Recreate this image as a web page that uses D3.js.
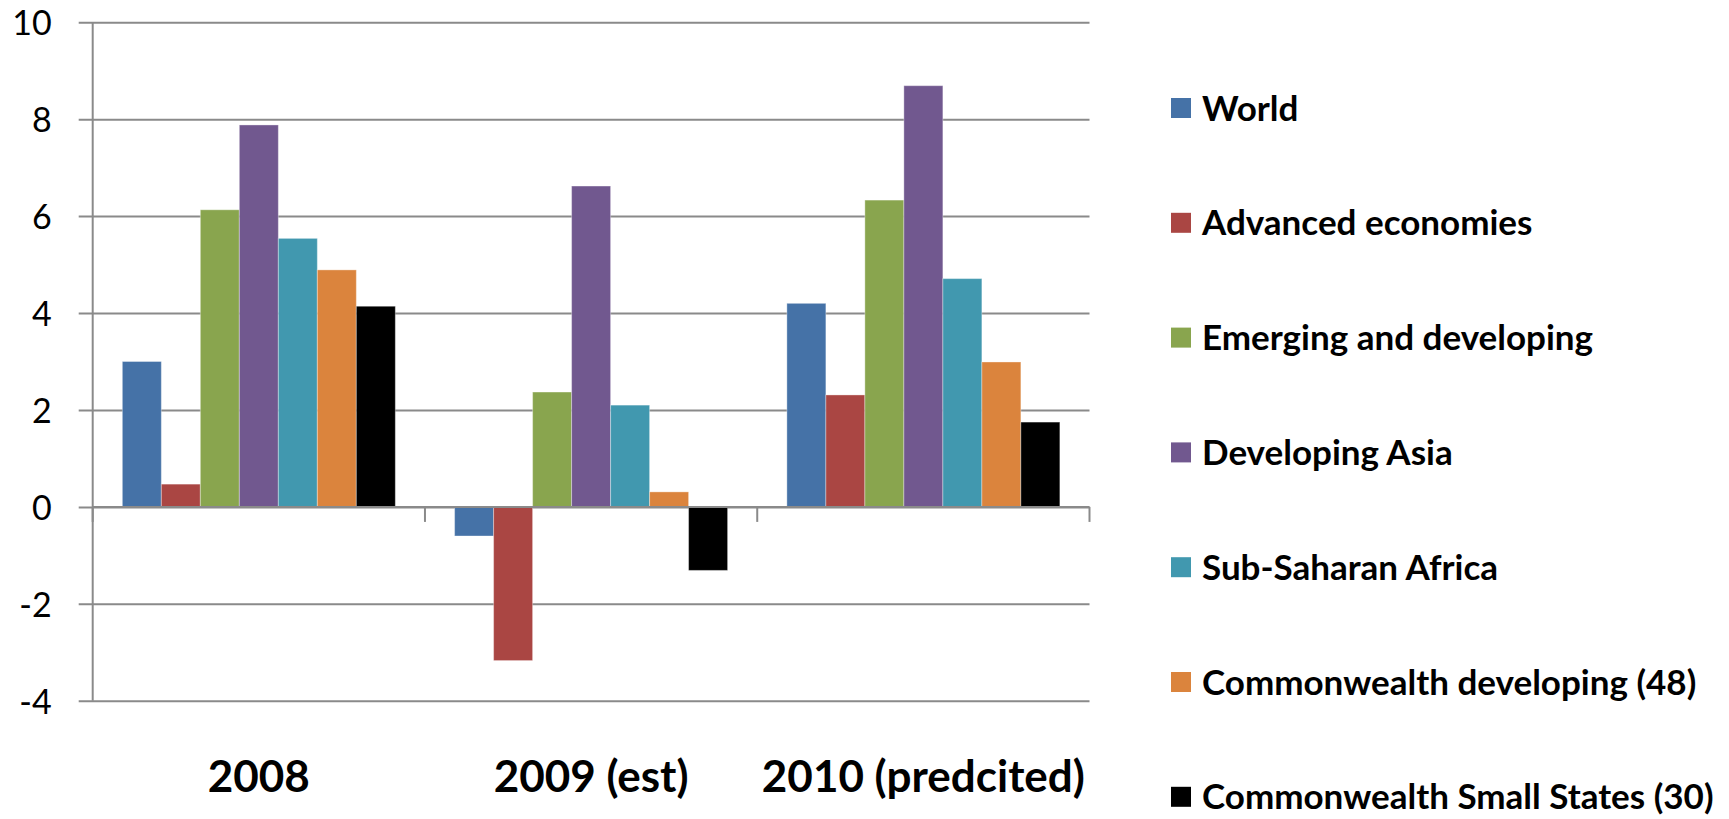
<!DOCTYPE html>
<html>
<head>
<meta charset="utf-8">
<script src="https://cdn.jsdelivr.net/npm/d3@7/dist/d3.min.js"></script>
<style>
  html, body { margin: 0; padding: 0; background: #ffffff; }
  svg { display: block; }
</style>
</head>
<body>
<script>
// ---- data ----
const categories = ["2008", "2009 (est)", "2010 (predcited)"];
const seriesNames = [
  "World",
  "Advanced economies",
  "Emerging and developing",
  "Developing Asia",
  "Sub-Saharan Africa",
  "Commonwealth developing (48)",
  "Commonwealth Small States (30)"
];
const world        = [3.0, -0.6, 4.2];
const advanced     = [0.47, -3.17, 2.31];
const emerging     = [6.13, 2.37, 6.33];
const devAsia      = [7.88, 6.62, 8.69];
const subSaharan   = [5.54, 2.10, 4.71];
const cwDeveloping = [4.89, 0.31, 2.99];
const cwSmall      = [4.14, -1.31, 1.75];
const seriesValues = [world, advanced, emerging, devAsia, subSaharan, cwDeveloping, cwSmall];
const seriesColors = ["#4572A7", "#AA4643", "#89A54E", "#71588F", "#4198AF", "#DB843D", "#000000"];
const yTicks = [-4, -2, 0, 2, 4, 6, 8, 10];

// ---- layout ----
const W = 1729, H = 819;
const plot = { left: 92.7, right: 1089.5, top: 22.2, bottom: 700.8 };

const svg = d3.select("body").append("svg").attr("width", W).attr("height", H);
svg.append("rect").attr("width", W).attr("height", H).attr("fill", "#ffffff");

const x0 = d3.scaleBand().domain(categories).range([plot.left, plot.right]).padding(0);
const x1 = d3.scaleBand().domain(d3.range(seriesNames.length))
  .range([0, x0.bandwidth()]).paddingInner(0).paddingOuter(0.76);
const y = d3.scaleLinear().domain([-4, 10]).range([plot.bottom, plot.top]);

const gridColor = "#8a8a8a";

// gridlines + y axis
const yAxis = d3.axisLeft(y).tickValues(yTicks).tickSize(-(plot.right - plot.left)).tickSizeOuter(0).tickPadding(0);
const gy = svg.append("g").attr("transform", `translate(${plot.left},0)`).call(yAxis);
gy.select(".domain").remove();
gy.selectAll(".tick line").attr("stroke", gridColor).attr("stroke-width", 2).attr("x1", -14);
gy.selectAll(".tick text")
  .attr("x", -41)
  .attr("dy", "0.36em")
  .attr("fill", "#000")
  .style("font-family", "Lato, 'Open Sans', sans-serif")
  .style("font-size", "34px")
  .attr("text-anchor", "end")
  .text(d => d);

// vertical axis line
svg.append("line")
  .attr("x1", plot.left).attr("x2", plot.left)
  .attr("y1", plot.top).attr("y2", plot.bottom)
  .attr("stroke", gridColor).attr("stroke-width", 2);

// bars
const groups = svg.append("g").selectAll("g").data(categories).join("g")
  .attr("transform", c => `translate(${x0(c)},0)`);
groups.selectAll("rect")
  .data((c, ci) => seriesValues.map((vals, si) => ({ si, v: vals[ci] })))
  .join("rect")
  .attr("x", d => x1(d.si))
  .attr("width", x1.bandwidth())
  .attr("y", d => y(Math.max(0, d.v)))
  .attr("height", d => Math.abs(y(d.v) - y(0)))
  .attr("fill", d => seriesColors[d.si])
  .attr("stroke", "#ffffff").attr("stroke-opacity", 0.35).attr("stroke-width", 1);

// category axis at zero
const xAxisLine = svg.append("g").attr("transform", `translate(0,${y(0)})`);
xAxisLine.append("line")
  .attr("x1", plot.left).attr("x2", plot.right)
  .attr("stroke", gridColor).attr("stroke-width", 2);
const boundaries = categories.map(c => x0(c) + x0.bandwidth()).concat([plot.left]);
xAxisLine.selectAll("line.tk").data(boundaries).join("line").attr("class", "tk")
  .attr("x1", d => d).attr("x2", d => d).attr("y1", 0).attr("y2", 15)
  .attr("stroke", gridColor).attr("stroke-width", 2);

// category labels
svg.append("g").selectAll("text").data(categories).join("text")
  .attr("x", c => x0(c) + x0.bandwidth() / 2)
  .attr("y", 792)
  .attr("text-anchor", "middle")
  .style("font-family", "Lato, 'Open Sans', sans-serif")
  .style("font-weight", "bold")
  .style("font-size", "44px")
  .attr("fill", "#000")
  .text(c => c);

// legend
const legendTop = 108, legendStep = 114.8;
const lg = svg.append("g").selectAll("g").data(seriesNames).join("g")
  .attr("transform", (d, i) => `translate(1171,${legendTop + i * legendStep})`);
lg.append("rect").attr("x", 0).attr("y", -10).attr("width", 20).attr("height", 20)
  .attr("fill", (d, i) => seriesColors[i]);
lg.append("text").attr("x", 31).attr("y", 0).attr("dy", "0.36em")
  .style("font-family", "Lato, 'Open Sans', sans-serif")
  .style("font-weight", "bold")
  .style("font-size", "35px")
  .attr("fill", "#000")
  .text(d => d);
</script>
</body>
</html>
